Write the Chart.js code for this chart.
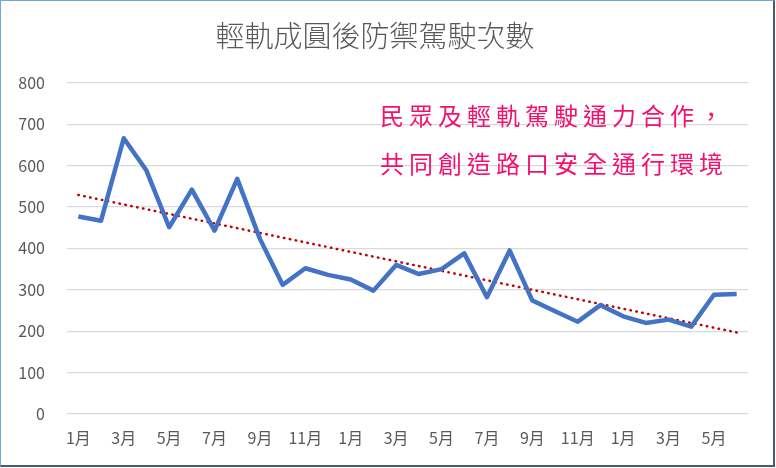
<!DOCTYPE html>
<html lang="zh-TW">
<head>
  <meta charset="utf-8">
  <title>輕軌成圓後防禦駕駛次數</title>
  <style>
    body { margin: 0; background: #fff; }
    #wrap { position: relative; width: 776px; height: 468px; }
    #frame {
      position: absolute; left: 0; top: 0; width: 772px; height: 464px;
      border: 1px solid #6FA8DC; border-right: 2px solid #4a5a6a; border-bottom: 2px solid #4a5a6a;
      pointer-events: none;
    }
  </style>
</head>
<body>
  <div id="wrap">
    <canvas id="myChart" width="776" height="468"></canvas>
    <div id="frame"></div>
  </div>

  <script src="https://cdn.jsdelivr.net/npm/chart.js@4/dist/chart.umd.min.js"></script>
  <script>
    // 月份（三年跨度，每隔一個月顯示標籤）
    var months = ['1月','2月','3月','4月','5月','6月','7月','8月','9月','10月','11月','12月',
                  '1月','2月','3月','4月','5月','6月','7月','8月','9月','10月','11月','12月',
                  '1月','2月','3月','4月','5月','6月'];

    // 每月防禦駕駛次數
    var counts = [477, 467, 666, 588, 451, 542, 443, 568, 423, 312, 352, 336,
                  325, 298, 360, 338, 350, 388, 282, 395, 274, 248, 223, 263,
                  236, 220, 228, 211, 288, 290];

    // 趨勢線兩端的值
    var trendStart = 529;
    var trendEnd = 197;

    var yTicks = [0, 100, 200, 300, 400, 500, 600, 700, 800];

    var note = ['民眾及輕軌駕駛通力合作，', '共同創造路口安全通行環境'];

    var last = months.length - 1;
    var trend = months.map(function (m, i) {
      if (i === 0) return trendStart;
      if (i === last) return trendEnd;
      return null;
    });

    // 畫粉紅色的說明文字
    var notePlugin = {
      id: 'note',
      afterDraw: function (chart) {
        var ctx = chart.ctx;
        ctx.save();
        ctx.fillStyle = '#F5106F';
        ctx.font = '24px "Noto Sans CJK TC"';
        ctx.letterSpacing = '5px';
        ctx.textBaseline = 'middle';
        ctx.fillText(note[0], 380, 116);
        ctx.fillText(note[1], 380, 164);
        ctx.restore();
      }
    };

    var tickFont = { family: '"Noto Sans CJK TC", sans-serif', size: 16 };

    var ctx = document.getElementById('myChart').getContext('2d');
    var myChart = new Chart(ctx, {
      type: 'line',
      data: {
        labels: months,
        datasets: [{
          data: counts,
          borderColor: '#4472C4',
          borderWidth: 4.5,
          pointRadius: 0,
          tension: 0,
          borderJoinStyle: 'round'
        }, {
          data: trend,
          borderColor: '#C00000',
          borderWidth: 2.5,
          borderDash: [0.5, 5.5],
          borderCapStyle: 'round',
          pointRadius: 0,
          spanGaps: true
        }]
      },
      options: {
        responsive: false,
        animation: false,
        layout: { padding: { left: 2, right: 28, top: 0, bottom: 2 } },
        plugins: {
          legend: { display: false },
          tooltip: { enabled: false },
          title: {
            display: true,
            text: '輕軌成圓後防禦駕駛次數',
            color: '#595959',
            font: { family: '"Noto Sans CJK TC", sans-serif', size: 29, weight: '300' },
            padding: { top: 19, bottom: 29 }
          }
        },
        scales: {
          x: {
            offset: true,
            grid: { display: false, drawTicks: false },
            border: { display: false },
            ticks: {
              autoSkip: false,
              maxRotation: 0,
              color: '#595959',
              font: tickFont,
              padding: 14,
              callback: function (v, i) { return i % 2 === 0 ? months[i] : ''; }
            },
            afterFit: function (scale) { scale.height = 52; }
          },
          y: {
            min: 0,
            max: 800,
            afterBuildTicks: function (scale) {
              scale.ticks = yTicks.map(function (v) { return { value: v }; });
            },
            grid: { color: '#D9D9D9', lineWidth: 1.2, drawTicks: false },
            border: { display: false },
            ticks: { color: '#595959', font: tickFont, padding: 22 },
            afterFit: function (scale) { scale.width = 65; }
          }
        }
      },
      plugins: [notePlugin]
    });
  </script>
</body>
</html>
